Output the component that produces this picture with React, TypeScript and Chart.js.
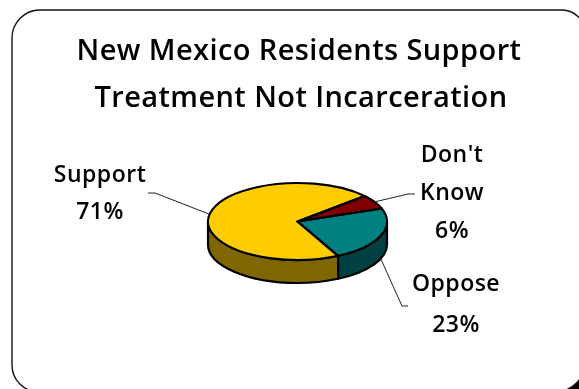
import React, { useEffect, useRef } from "react";
import { Chart, registerables } from "chart.js";

Chart.register(...registerables);

// Survey shares, listed clockwise from the front of the pie.
const categories = ["Support", "Don't Know", "Oppose"];
const shares = [71, 6, 23];
const topColors = ["#FFCC00", "#800000", "#008080"];
const sideColors = ["#806600", "#400000", "#004040"];
const titleLines = ["New Mexico Residents Support", "Treatment Not Incarceration"];

// Label text lines for each slice, with the point where its leader meets the text.
const labelLines = [["Support", "71%"], ["Don't", "Know", "6%"], ["Oppose", "23%"]];
const labelCenters = [100, 452, 456];
const labelBaselines = [[182, 219], [162, 200, 238], [291, 332]];
const leaderEnds = [[148, 193, 155], [415, 194, 408], [408, 306, 402]];

const TILT = 0.43;
const DEPTH = 23;
const FONT = '"Open Sans", sans-serif';

const pie3d = {
  id: "pie3d",
  beforeDraw(chart: any) {
    const c = chart.ctx;
    c.save();
    // Dark shadow peeking out at the lower right of the panel.
    c.fillStyle = "#000";
    c.fillRect(555, 365, 24, 24);
    c.beginPath();
    c.roundRect(12, 10, 573, 382, [28, 23, 30, 27]);
    c.fillStyle = "#fff";
    c.fill();
    c.strokeStyle = "#111";
    c.lineWidth = 1.4;
    c.stroke();
    c.restore();
  },
  beforeDatasetsDraw(chart: any) {
    const c = chart.ctx;
    const arcs = chart.getDatasetMeta(0).data;
    c.save();
    c.lineWidth = 2.2;
    c.strokeStyle = "#000";
    c.lineJoin = "round";
    arcs.forEach((a: any, i: number) => {
      // Only the part of a slice facing the viewer (0..PI on screen) shows a side wall.
      [-2, 0, 2].forEach((k) => {
        const from = Math.max(a.startAngle + k * Math.PI, 0);
        const to = Math.min(a.endAngle + k * Math.PI, Math.PI);
        if (to <= from) return;
        const ry = a.outerRadius * TILT;
        c.beginPath();
        c.ellipse(a.x, a.y, a.outerRadius, ry, 0, from, to);
        c.ellipse(a.x, a.y + DEPTH, a.outerRadius, ry, 0, to, from, true);
        c.closePath();
        c.fillStyle = sideColors[i];
        c.fill();
        c.stroke();
      });
    });
    c.restore();
    // Flatten the pie's top face about its centre.
    const { x, y } = arcs[0];
    c.save();
    c.translate(x, y);
    c.scale(1, TILT);
    c.translate(-x, -y);
  },
  afterDatasetsDraw(chart: any) {
    const c = chart.ctx;
    c.restore();
    const arcs = chart.getDatasetMeta(0).data;
    c.save();
    c.lineWidth = 2.2;
    c.strokeStyle = "#000";
    c.lineJoin = "round";
    arcs.forEach((a: any) => {
      c.beginPath();
      c.moveTo(a.x, a.y);
      c.ellipse(a.x, a.y, a.outerRadius, a.outerRadius * TILT, 0, a.startAngle, a.endAngle);
      c.closePath();
      c.stroke();
    });
    // Leader lines run from each slice's mid-angle out to its label.
    c.lineWidth = 1;
    c.strokeStyle = "#222";
    arcs.forEach((a: any, i: number) => {
      const mid = (a.startAngle + a.endAngle) / 2;
      const onFront = Math.sin(mid) > 0 && i === 2;
      const sx = a.x + Math.cos(mid) * a.outerRadius;
      const sy = a.y + Math.sin(mid) * a.outerRadius * TILT + (onFront ? DEPTH : 0);
      const [ex, ey, elbow] = leaderEnds[i];
      c.beginPath();
      c.moveTo(sx, sy);
      c.lineTo(elbow, ey);
      c.lineTo(ex, ey);
      c.stroke();
    });
    c.restore();
  },
  afterDraw(chart: any) {
    const c = chart.ctx;
    const text = (s: string, x: number, y: number, size: number, spacing: number) => {
      c.font = `600 ${size}px ${FONT}`;
      c.letterSpacing = `${spacing}px`;
      c.fillText(s, x, y);
    };
    c.save();
    c.fillStyle = "#000";
    c.textAlign = "center";
    c.textBaseline = "alphabetic";
    text(titleLines[0], 299, 60, 29, 0.4);
    text(titleLines[1], 301, 107, 29, 0.4);
    labelLines.forEach((lines, i) => {
      lines.forEach((s, j) => text(s, labelCenters[i], labelBaselines[i][j], 23, 0.5));
    });
    c.restore();
  },
};

export default function App() {
  const ref = useRef<HTMLCanvasElement>(null);
  useEffect(() => {
    const chart = new Chart(ref.current!, {
      type: "pie",
      data: {
        labels: categories,
        datasets: [{ data: shares, backgroundColor: topColors, borderWidth: 0 }],
      },
      options: {
        animation: false,
        responsive: false,
        rotation: 153,
        layout: { padding: { left: 208, right: 192, top: 132, bottom: 78 } },
        plugins: { legend: { display: false }, tooltip: { enabled: false } },
      },
      plugins: [pie3d],
    });
    return () => chart.destroy();
  }, []);
  return (
    <div style={{ position: "fixed", left: 0, top: 0 }}>
      <canvas ref={ref} width={579} height={389} style={{ display: "block" }} />
    </div>
  );
}
